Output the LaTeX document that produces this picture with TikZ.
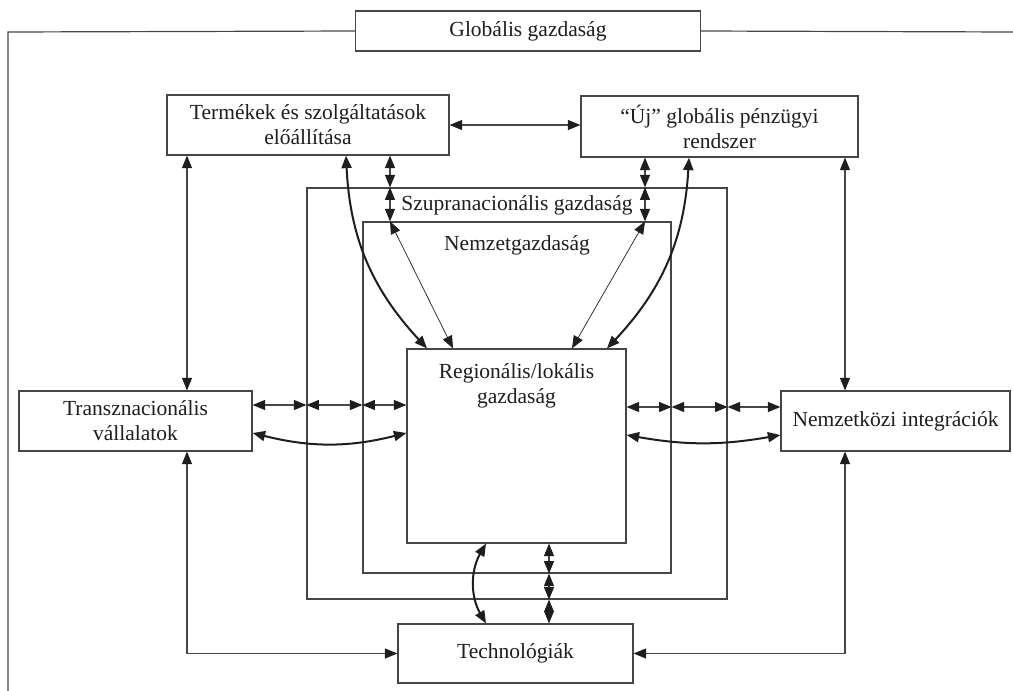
\documentclass[tikz,border=0pt]{standalone}
\usepackage{fontspec}
\setmainfont{Liberation Serif}
\usetikzlibrary{arrows.meta,calc}
\definecolor{linec}{RGB}{70,70,70}
\definecolor{txtc}{RGB}{30,30,30}
\begin{document}
\begin{tikzpicture}[x=1pt,y=-1pt,
  box/.style={draw=linec, line width=1.2pt, inner sep=0pt},
  lbl/.style={font=\fontsize{21.5}{25}\selectfont, align=center, text=txtc, inner sep=0pt},
  frameline/.style={draw=linec, line width=1.2pt},
  tip/.tip={Triangle[length=12.5pt,width=10pt]},
  dtip/.tip={Triangle[length=12.5pt,width=10pt,color=txtc]},
  dbl/.style={draw=linec, line width=1.1pt, dtip-dtip},
  dblthin/.style={draw=txtc, line width=0.7pt, tip-tip},
  dblbold/.style={draw=txtc, line width=2pt, tip-tip}
]
\useasboundingbox (0,0) rectangle (1013,691);

% boxes
\node[box, minimum width=345pt, minimum height=40pt] (glob) at (528,31) {};
\node[lbl] (globT) at (glob.center) {Globális gazdaság};
\node[box, minimum width=282pt, minimum height=60pt] (prod) at (308,125) {};
\node[lbl] (prodT) at (prod.center) {Termékek és szolgáltatások\\előállítása};
\node[box, minimum width=277pt, minimum height=61pt] (fin) at (719.5,126.5) {};
\node[lbl] (finT) at (fin.center) {“Új” globális pénzügyi\\rendszer};
\node[box, minimum width=420pt, minimum height=411pt] (supra) at (517,393.5) {};
\node[lbl] (supraT) at (517,205) {Szupranacionális gazdaság};
\node[box, minimum width=308pt, minimum height=351pt] (nemz) at (517,397.5) {};
\node[lbl] (nemzT) at (517,245) {Nemzetgazdaság};
\node[box, minimum width=219pt, minimum height=194pt] (reg) at (516.5,446) {};
\node[lbl] (regT) at (516.5,386) {Regionális/lokális\\gazdaság};
\node[box, minimum width=233pt, minimum height=60pt] (trans) at (135.5,421) {};
\node[lbl] (transT) at (trans.center) {Transznacionális\\vállalatok};
\node[box, minimum width=229pt, minimum height=60pt] (integ) at (895.5,421) {};
\node[lbl] (integT) at (integ.center) {Nemzetközi integrációk};
\node[box, minimum width=235pt, minimum height=59pt] (tech) at (515.5,653.5) {};
\node[lbl] (techT) at (tech.center) {Technológiák};

% helper coordinates
\coordinate (ftl) at (8,32);
\coordinate (fbl) at (8,691);
\coordinate (fr) at (1013,32);
\coordinate (xa) at (390,0);
\coordinate (xb) at (645,0);
\coordinate (xc) at (187,0);
\coordinate (xd) at (845,0);
\coordinate (xe) at (549,0);
\coordinate (xf) at (486,0);
\coordinate (xg) at (346,0);
\coordinate (xh) at (427,0);
\coordinate (xi) at (689,0);
\coordinate (xj) at (607,0);
\coordinate (xk) at (453,0);
\coordinate (xl) at (572,0);
\coordinate (ya) at (0,405);
\coordinate (yb) at (0,407);
\coordinate (yc) at (0,433);
\coordinate (yd) at (0,435);

% outer frame
\draw[frameline] (glob.west) -- (ftl) -- (fbl);
\draw[frameline] (glob.east) -- (fr);

% top
\draw[dbl] (prod.east) -- (fin.west |- prod.east);
\draw[dbl] (prod.south -| xa) -- (supra.north -| xa);
\draw[dbl] (supra.north -| xa) -- (nemz.north -| xa);
\draw[dbl] (fin.south -| xb) -- (supra.north -| xb);
\draw[dbl] (supra.north -| xb) -- (nemz.north -| xb);
\draw[dbl] (prod.south -| xc) -- (trans.north -| xc);
\draw[dbl] (fin.south -| xd) -- (integ.north -| xd);

% diagonals
\draw[dblthin] (nemz.north -| xa) -- (reg.north -| xk);
\draw[dblthin] (nemz.north -| xb) -- (reg.north -| xl);
\draw[dblbold] (prod.south -| xg) to[bend right=20] (reg.north -| xh);
\draw[dblbold] (fin.south -| xi) to[bend left=20] (reg.north -| xj);

% left side
\draw[dbl] (trans.east |- ya) -- (supra.west |- ya);
\draw[dbl] (supra.west |- ya) -- (nemz.west |- ya);
\draw[dbl] (nemz.west |- ya) -- (reg.west |- ya);
\draw[dblbold] (trans.east |- yc) to[bend right=14] (reg.west |- yc);

% right side
\draw[dbl] (reg.east |- yb) -- (nemz.east |- yb);
\draw[dbl] (nemz.east |- yb) -- (supra.east |- yb);
\draw[dbl] (supra.east |- yb) -- (integ.west |- yb);
\draw[dblbold] (reg.east |- yd) to[bend right=10] (integ.west |- yd);

% bottom
\draw[dbl] (reg.south -| xe) -- (nemz.south -| xe);
\draw[dbl] (nemz.south -| xe) -- (supra.south -| xe);
\draw[dbl] (supra.south -| xe) -- (tech.north -| xe);
\draw[dblbold] (reg.south -| xf) to[bend right=30] (tech.north -| xf);
\draw[dbl] (trans.south -| xc) |- (tech.west);
\draw[dbl] (integ.south -| xd) |- (tech.east);
\end{tikzpicture}
\end{document}
